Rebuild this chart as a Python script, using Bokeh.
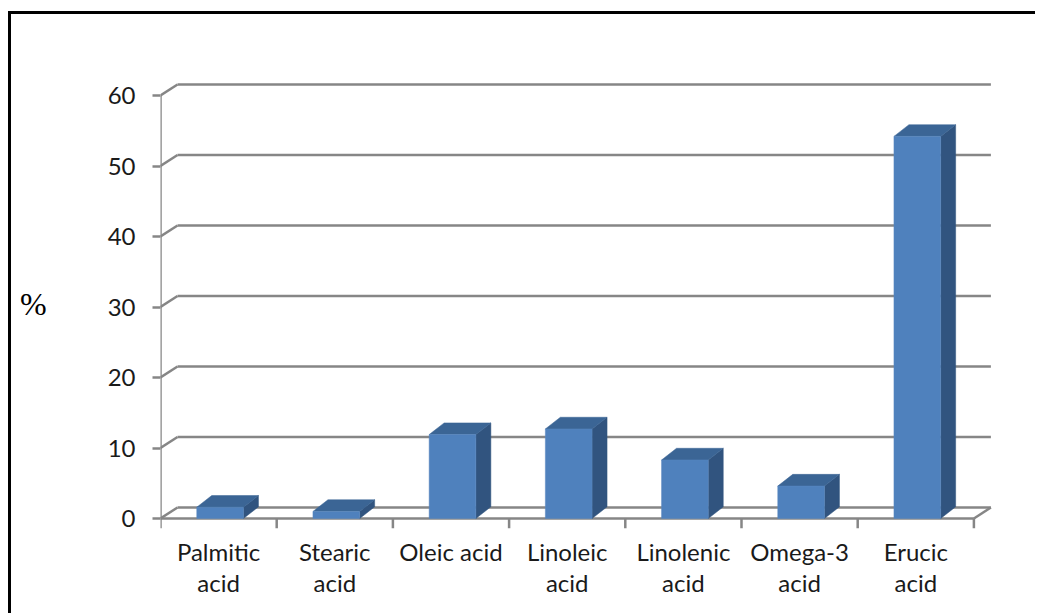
from bokeh.plotting import figure
from bokeh.models import FixedTicker, Range1d
from bokeh.embed import file_html
from bokeh.resources import INLINE

# ---- data ----
categories = ["Palmitic\nacid", "Stearic\nacid", "Oleic acid", "Linoleic\nacid",
              "Linolenic\nacid", "Omega-3\nacid", "Erucic\nacid"]
values = [1.6, 1.0, 11.9, 12.7, 8.3, 4.6, 54.2]
y_ticks = [0, 10, 20, 30, 40, 50, 60]
y_label = "%"

# ---- style / geometry (pixel-based depth offsets converted to data units) ----
PX_X = 116.2          # px per category
PX_Y = 7.05           # px per % unit
X_END = 832 / PX_X
Y_START = -10 / PX_Y
Y_END = 440 / PX_Y
GDX, GDY = 17 / PX_X, 11 / PX_Y      # wall depth
BDX, BDY = 15 / PX_X, 11.7 / PX_Y    # bar depth
BW = 46.7 / PX_X                     # bar front width
SHIFT = 1.5 / PX_X
GRID = "#868686"
FRONT = "#4F81BD"
TOP = "#3B6595"
SIDE = "#31547F"

p = figure(width=1027, height=602, output_backend="svg", toolbar_location=None,
           x_range=Range1d(0, X_END), y_range=Range1d(Y_START, Y_END),
           min_border_left=149, min_border_right=46, min_border_top=64,
           min_border_bottom=88)
p.margin = (11, 0, 0, 8)
p.styles = {"border-top": "3px solid black", "border-left": "3px solid black"}
p.outline_line_color = None
p.xgrid.visible = False
p.ygrid.visible = False
p.background_fill_color = "white"

# back wall gridlines + diagonals
n = len(categories)
gx0 = [GDX] * len(y_ticks)
gx1 = [n + GDX] * len(y_ticks)
gy = [t + GDY for t in y_ticks]
p.segment(x0=gx0, y0=gy, x1=gx1, y1=gy, line_color=GRID, line_width=2.5)
p.segment(x0=[0] * len(y_ticks), y0=y_ticks, x1=gx0, y1=gy, line_color=GRID, line_width=2.5)
# floor front edge and right diagonal
p.segment(x0=[0, n], y0=[0, 0], x1=[n, n + GDX], y1=[0, GDY], line_color=GRID, line_width=2.5)
# front value axis
p.segment(x0=[0], y0=[0], x1=[0], y1=[max(y_ticks)], line_color=GRID, line_width=2.5)
# category boundary ticks
p.segment(x0=list(range(n + 1)), y0=[0] * (n + 1), x1=list(range(n + 1)),
          y1=[Y_START] * (n + 1), line_color=GRID, line_width=2.5)

# bars
L = [i + 0.5 + SHIFT - BW / 2 for i in range(n)]
R = [i + 0.5 + SHIFT + BW / 2 for i in range(n)]
side_xs = [[r, r + BDX, r + BDX, r] for r in R]
side_ys = [[0, BDY, v + BDY, v] for v in values]
top_xs = [[l, r, r + BDX, l + BDX] for l, r in zip(L, R)]
top_ys = [[v, v, v + BDY, v + BDY] for v in values]
p.patches(side_xs, side_ys, fill_color=SIDE, line_color=SIDE, line_width=0.5)
p.patches(top_xs, top_ys, fill_color=TOP, line_color=TOP, line_width=0.5)
p.quad(left=L, right=R, bottom=[0] * n, top=values, fill_color=FRONT,
       line_color="#5A88C0", line_width=0.5)

# y axis
ya = p.yaxis[0]
ya.ticker = FixedTicker(ticks=y_ticks)
ya.axis_line_color = None
ya.major_tick_line_color = GRID
ya.major_tick_line_width = 2.5
ya.major_tick_out = 8
ya.major_tick_in = 0
ya.minor_tick_line_color = None
ya.major_label_text_font = "Lato"
ya.major_label_text_font_size = "24px"
ya.major_label_text_color = "#1a1a1a"
ya.major_label_standoff = 17
ya.axis_label = y_label
ya.axis_label_orientation = "horizontal"
ya.axis_label_text_font = "Liberation Serif"
ya.axis_label_text_font_style = "normal"
ya.axis_label_text_font_size = "32px"
ya.axis_label_text_color = "#000000"
ya.axis_label_standoff = 58

# x axis (labels only)
xa = p.xaxis[0]
centers = [i + 0.5 for i in range(n)]
xa.ticker = FixedTicker(ticks=centers)
xa.major_label_overrides = {c: lab for c, lab in zip(centers, categories)}
xa.axis_line_color = None
xa.major_tick_line_color = None
xa.minor_tick_line_color = None
xa.major_label_text_font = "Lato"
xa.major_label_text_font_size = "24px"
xa.major_label_text_color = "#1a1a1a"
xa.major_label_text_line_height = 1.1
xa.major_label_standoff = 2

open("out.html", "w").write(file_html(p, INLINE))
